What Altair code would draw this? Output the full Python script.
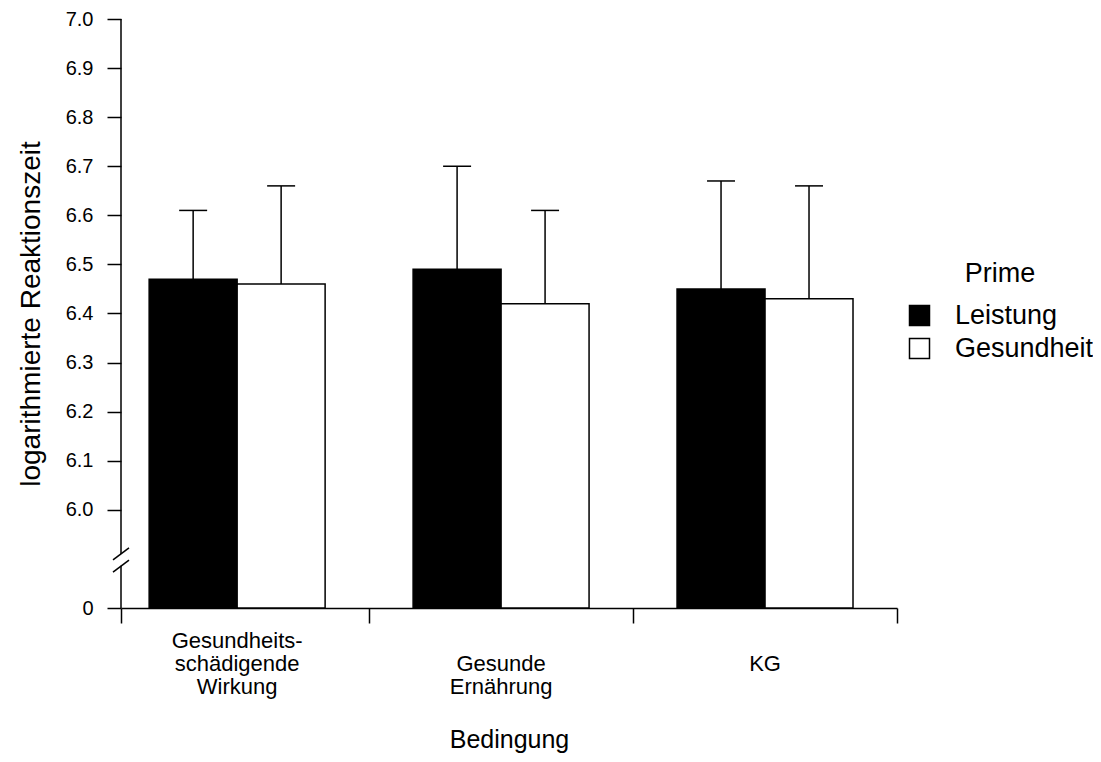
import altair as alt
import pandas as pd

# ---------------- data ----------------
conditions = ["Gesundheits-\nschädigende\nWirkung", "\nGesunde\nErnährung", "\n\nKG"]
primes = ["Leistung", "Gesundheit"]
leistung_mean = [6.47, 6.49, 6.45]
gesundheit_mean = [6.46, 6.42, 6.43]
leistung_upper = [6.61, 6.70, 6.67]
gesundheit_upper = [6.66, 6.61, 6.66]

y_tick_values = [5.8, 6.0, 6.1, 6.2, 6.3, 6.4, 6.5, 6.6, 6.7, 6.8, 6.9, 7.0]
x_tick_values = [-0.44, 0.5, 1.5, 2.5]
x_domain = [-0.44, 2.5]
y_domain = [5.8, 7.0]
axis_seg_start = [7.0, 5.886]
axis_seg_end = [5.910, 5.8]
break_low = [5.898, 5.873]
BREAK_H = 0.0244
BAR_W = 1 / 3
CAP_W = 0.053

rows = []
for i, c in enumerate(conditions):
    rows.append(dict(idx=i, cond=c, prime=primes[0], pidx=0,
                     mean=leistung_mean[i], upper=leistung_upper[i]))
    rows.append(dict(idx=i, cond=c, prime=primes[1], pidx=1,
                     mean=gesundheit_mean[i], upper=gesundheit_upper[i]))
df = pd.DataFrame(rows)
cond_df = pd.DataFrame({"idx": list(range(len(conditions))), "cond": conditions})
axis_df = pd.DataFrame({"y": axis_seg_start, "y2": axis_seg_end})
break_df = pd.DataFrame({"y": break_low, "y2": [b + BREAK_H for b in break_low]})

W, H = 776, 589
FONT = "Liberation Sans"

xscale = alt.Scale(domain=x_domain, nice=False, zero=False)
yscale = alt.Scale(domain=y_domain, nice=False, zero=False)

base = alt.Chart(df).transform_calculate(
    x0=f"datum.idx + (datum.pidx - 1) * {BAR_W}",
    x1=f"datum.idx + datum.pidx * {BAR_W}",
    xc=f"datum.idx + (datum.pidx - 0.5) * {BAR_W}",
    c0=f"datum.idx + (datum.pidx - 0.5) * {BAR_W} - {CAP_W}",
    c1=f"datum.idx + (datum.pidx - 0.5) * {BAR_W} + {CAP_W}",
)

err = base.mark_rule(color="black", strokeWidth=1.5).encode(
    x=alt.X("xc:Q", scale=xscale),
    y=alt.Y("mean:Q", scale=yscale),
    y2="upper:Q",
)
caps = base.mark_rule(color="black", strokeWidth=1.5).encode(
    x=alt.X("c0:Q", scale=xscale),
    x2="c1:Q",
    y=alt.Y("upper:Q", scale=yscale),
)

bars = base.mark_bar(stroke="black", strokeWidth=1.5).encode(
    x=alt.X("x0:Q", scale=xscale,
            axis=alt.Axis(values=x_tick_values, labels=False, title="Bedingung",
                          tickSize=15, tickWidth=1.5, tickColor="black",
                          domainColor="black", domainWidth=1.5, grid=False,
                          titleFontSize=25, titleFontWeight="normal", titleFont=FONT,
                          titleColor="black", titlePadding=104)),
    x2="x1:Q",
    y=alt.Y("mean:Q", scale=yscale,
            axis=alt.Axis(values=y_tick_values, domain=False, grid=False,
                          labelExpr="datum.value < 5.9 ? '0' : format(datum.value, '.1f')",
                          tickSize=14, tickWidth=1.5, tickColor="black",
                          labelFontSize=20, labelColor="black", labelPadding=14,
                          labelFont=FONT,
                          title="logarithmierte Reaktionszeit", titleFontSize=28,
                          titleFontWeight="normal", titleFont=FONT, titleColor="black",
                          titlePadding=20)),
    y2=alt.datum(5.8),
    fill=alt.Fill("prime:N",
                  scale=alt.Scale(domain=primes, range=["black", "white"]),
                  legend=alt.Legend(orient="none", legendX=785, legendY=242,
                                    title="Prime", titleAnchor="middle",
                                    symbolType="square", symbolSize=400,
                                    symbolStrokeColor="black", symbolStrokeWidth=1.5,
                                    labelFontSize=27, titleFontSize=27,
                                    titleFontWeight="normal", labelFont=FONT,
                                    titleFont=FONT, labelColor="black",
                                    titleColor="black", labelOffset=22,
                                    rowPadding=5, titlePadding=14, padding=0)),
)

yaxis_line = alt.Chart(axis_df).mark_rule(color="black", strokeWidth=1.5).encode(
    x=alt.value(0),
    y=alt.Y("y:Q", scale=yscale),
    y2="y2:Q",
)
breaks = alt.Chart(break_df).mark_rule(color="black", strokeWidth=1.5).encode(
    x=alt.value(-8),
    x2=alt.value(8),
    y=alt.Y("y:Q", scale=yscale),
    y2="y2:Q",
)

labels = alt.Chart(cond_df).mark_text(
    lineBreak="\n", baseline="middle", align="center", fontSize=22,
    lineHeight=23, font=FONT, color="black",
).encode(
    x=alt.X("idx:Q", scale=xscale),
    y=alt.value(622),
    text="cond:N",
)

chart = alt.layer(bars, err, caps, yaxis_line, breaks, labels).properties(
    width=W, height=H,
    autosize=alt.AutoSizeParams(type="none"),
    padding={"left": 113, "top": 11, "right": 196, "bottom": 146},
).configure(font=FONT).configure_view(stroke=None)

chart.save("out.html", embed_options={"renderer": "svg", "actions": False})
